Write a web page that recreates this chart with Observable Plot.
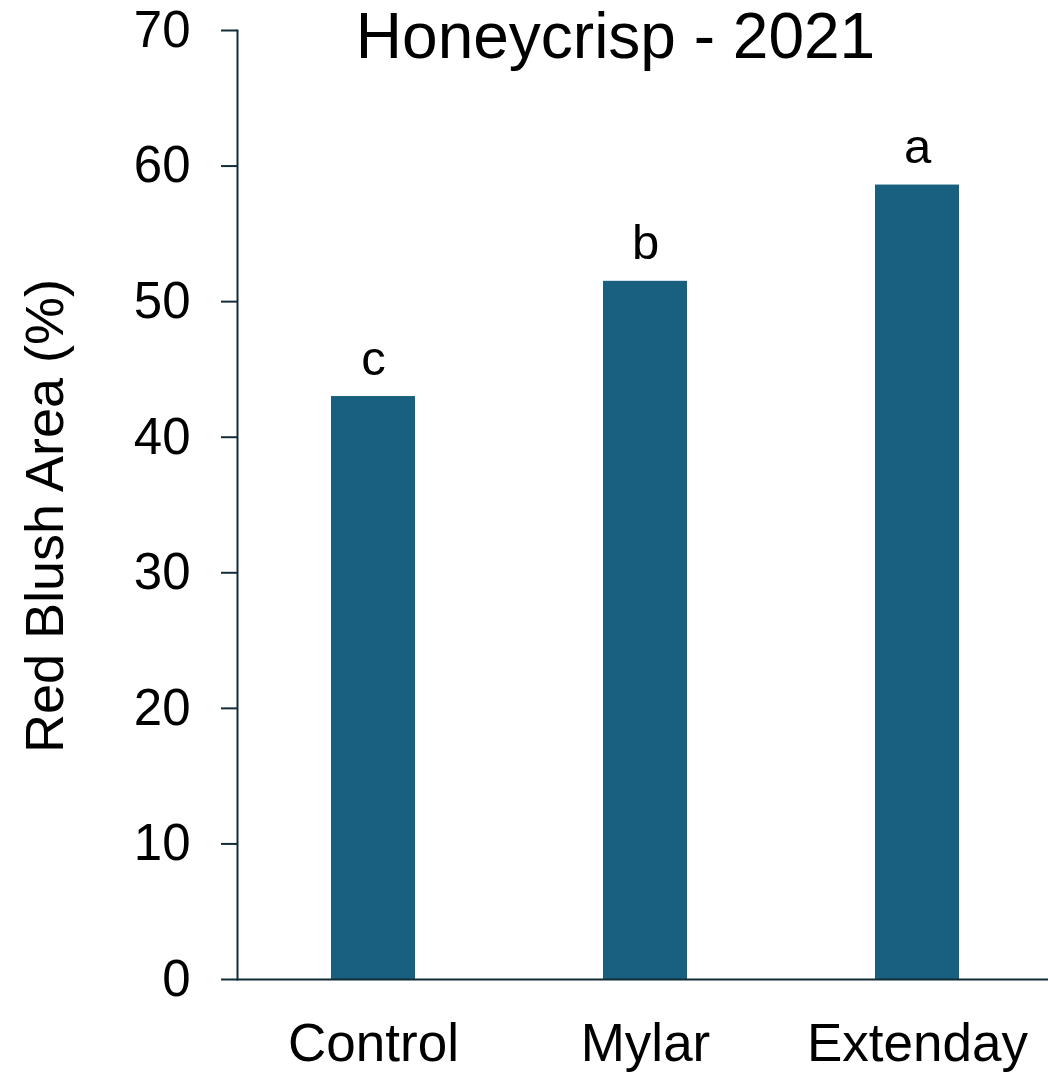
<!DOCTYPE html>
<html>
<head>
<meta charset="utf-8">
<script src="https://cdn.jsdelivr.net/npm/d3@7"></script>
<script src="https://cdn.jsdelivr.net/npm/@observablehq/plot@0.6"></script>
<style>
  html, body { margin: 0; padding: 0; background: #fff; }
  #chart svg { display: block; }
</style>
</head>
<body>
<div id="chart"></div>
<script>
const title = "Honeycrisp - 2021";
const yLabel = "Red Blush Area (%)";
const treatments = ["Control", "Mylar", "Extenday"];
const blushArea = [43.0, 51.5, 58.6];
const letters = ["c", "b", "a"];
const yTicks = [0, 10, 20, 30, 40, 50, 60, 70];

const data = treatments.map((t, i) => ({treatment: t, value: blushArea[i], letter: letters[i]}));

const barColor = "#185f80";
const axisColor = "#112c39";
const font = "'Liberation Sans', Arial, Helvetica, sans-serif";

const chart = Plot.plot({
  width: 1048,
  height: 1072,
  marginLeft: 237,
  marginRight: -5,
  marginTop: 30,
  marginBottom: 93,
  style: {fontFamily: font, color: "#000", background: "#fff"},
  x: {domain: treatments, paddingInner: 0.69, paddingOuter: 0.345, label: null},
  y: {domain: [0, 70], label: null},
  marks: [
    Plot.barY(data, {x: "treatment", y: "value", fill: barColor}),
    Plot.frame({anchor: "left", stroke: axisColor, strokeWidth: 2, strokeOpacity: 1}),
    Plot.ruleY([0], {stroke: axisColor, strokeWidth: 2}),
    Plot.axisY({
      ticks: yTicks, tickSize: 16, tickPadding: 31, stroke: axisColor, strokeWidth: 2, strokeOpacity: 1,
      fontSize: 51, fill: "#000", label: null
    }),
    Plot.text([yLabel], {frameAnchor: "left", rotate: -90, textAnchor: "middle", lineAnchor: "middle", dx: -192, dy: 11, fontSize: 54, fill: "#000"}),
    Plot.axisX({tickSize: 0, tickPadding: 44, fontSize: 53, fill: "#000"}),
    Plot.text(data, {x: "treatment", y: "value", text: "letter", lineAnchor: "bottom", dy: -22, fontSize: 49, fill: "#000"}),
    Plot.text([title], {frameAnchor: "top", lineAnchor: "bottom", dx: -30, dy: 27, fontSize: 64, fill: "#000"})
  ]
});
document.getElementById("chart").appendChild(chart);
</script>
</body>
</html>
